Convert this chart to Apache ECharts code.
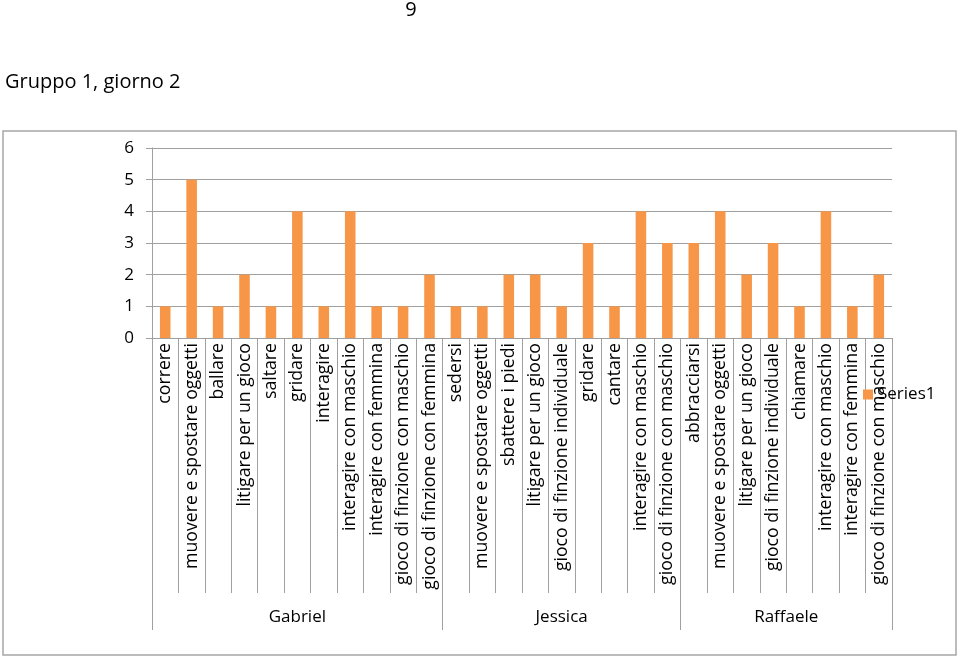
<!DOCTYPE html>
<html>
<head>
<meta charset="utf-8">
<style>html,body{margin:0;padding:0;background:#fff;}#c{width:960px;height:660px;}</style>
<script src="https://cdn.jsdelivr.net/npm/echarts@6/dist/echarts.min.js"></script>
</head>
<body>
<div id="c"></div>
<script>
const groups = ["Gabriel", "Jessica", "Raffaele"];
const gabrielActs = ["correre","muovere e spostare oggetti","ballare","litigare per un gioco","saltare","gridare","interagire","interagire con maschio","interagire con femmina","gioco di finzione con maschio","gioco di finzione con femmina"];
const jessicaActs = ["sedersi","muovere e spostare oggetti","sbattere i piedi","litigare per un gioco","gioco di finzione individuale","gridare","cantare","interagire con maschio","gioco di finzione con maschio"];
const raffaeleActs = ["abbracciarsi","muovere e spostare oggetti","litigare per un gioco","gioco di finzione individuale","chiamare","interagire con maschio","interagire con femmina","gioco di finzione con maschio"];
const gabrielVals = [1,5,1,2,1,4,1,4,1,1,2];
const jessicaVals = [1,1,2,2,1,3,1,4,3];
const raffaeleVals = [3,4,2,3,1,4,1,2];
const yTicks = [0,1,2,3,4,5,6];

const acts = [gabrielActs, jessicaActs, raffaeleActs];
const categories = [].concat(...acts);
const values = [].concat(gabrielVals, jessicaVals, raffaeleVals);
const bounds = [0]; const centers = [];
acts.forEach(a => { const s = bounds[bounds.length-1]; centers.push(s + a.length/2); bounds.push(s + a.length); });

const FONT = "Open Sans";
const FS = 17;
const chart = echarts.init(document.getElementById('c'));
chart.setOption({
  animation: false,
  title: [
    {text: "9", left: 406, top: -5, textAlign: 'center', textStyle: {fontFamily: FONT, fontSize: 20, fontWeight: 'normal', color: '#000'}},
    {text: "Gruppo 1, giorno 2", left: 0, top: 67, textStyle: {fontFamily: FONT, fontSize: 20, fontWeight: 'normal', color: '#000'}}
  ],
  graphic: [{type: 'rect', shape: {x: 3, y: 131, width: 953, height: 524}, style: {fill: 'none', stroke: '#a6a6a6', lineWidth: 1.5}, silent: true, z: -1}],
  legend: {data: ['Series1'], left: 863, top: 386, padding: 0, itemWidth: 10, itemHeight: 10, icon: 'rect',
    textStyle: {fontFamily: FONT, fontSize: FS, color: '#000'}},
  grid: {left: 152, right: 68, top: 148, bottom: 322, containLabel: false},
  xAxis: [
    {type: 'category', data: categories, position: 'bottom',
      axisLine: {show: true, lineStyle: {color: '#a0a0a0'}},
      axisTick: {show: true, length: 255, lineStyle: {color: '#a0a0a0'}},
      axisLabel: {interval: 0, rotate: 90, margin: 5, fontFamily: FONT, fontSize: 17.7, color: '#000'},
      splitLine: {show: false}},
    {type: 'value', min: 0, max: categories.length, position: 'bottom', offset: 0,
      axisLine: {show: false},
      axisTick: {show: true, length: 292, customValues: bounds, lineStyle: {color: '#a0a0a0'}},
      axisLabel: {customValues: centers, margin: 271, fontFamily: FONT, fontSize: FS, color: '#000',
        formatter: v => groups[centers.indexOf(v)]},
      splitLine: {show: false}}
  ],
  yAxis: {type: 'value', min: yTicks[0], max: yTicks[yTicks.length-1], interval: 1,
    axisLine: {show: true, lineStyle: {color: '#a0a0a0'}},
    axisTick: {show: true, length: 6, lineStyle: {color: '#a0a0a0'}},
    axisLabel: {margin: 18, fontFamily: FONT, fontSize: FS, color: '#000'},
    splitLine: {show: true, lineStyle: {color: '#a0a0a0', width: 1}}},
  series: [{name: 'Series1', type: 'bar', xAxisIndex: 0, data: values, barWidth: '40%',
    itemStyle: {color: '#F79646'}}]
});
</script>
</body>
</html>
